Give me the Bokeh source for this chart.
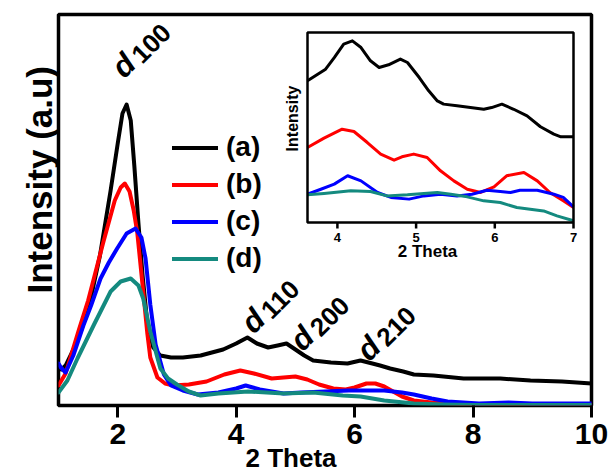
from bokeh.plotting import figure
from bokeh.models import Range1d, Legend, LegendItem, Label, FixedTicker, Title
from bokeh.core.properties import value
from bokeh.embed import file_html
from bokeh.resources import INLINE

# ---------------- data (main panel) ----------------
x_ticks = [2, 4, 6, 8, 10]

a_x = [1.0, 1.05, 1.12, 1.3, 1.5, 1.7, 1.88, 2.0, 2.08, 2.15, 2.22, 2.28, 2.35, 2.42, 2.5, 2.6, 2.72, 2.9,
       3.1, 3.4, 3.78, 4.0, 4.19, 4.35, 4.54, 4.7, 4.85, 5.0, 5.15, 5.3, 5.6, 5.88, 6.1, 6.3, 6.43, 6.6,
       6.82, 7.0, 7.33, 7.84, 8.46, 8.97, 9.5, 10.0]
a_y = [38, 36, 40, 62, 95, 150, 215, 262, 292, 301, 285, 240, 182, 130, 82, 58, 50, 48,
       48, 50, 56, 62, 68, 62, 58, 60, 62, 56, 50, 45, 43, 42, 45, 42, 40, 37,
       34, 31, 30, 27, 27, 25, 24, 22]

b_x = [1.0, 1.05, 1.12, 1.34, 1.5, 1.76, 1.95, 2.05, 2.12, 2.2, 2.27, 2.33, 2.42, 2.5, 2.55, 2.67, 2.8,
       2.94, 3.2, 3.5, 3.8, 4.07, 4.3, 4.6, 4.8, 5.0, 5.2, 5.4, 5.64, 5.85, 6.0, 6.2, 6.35, 6.5, 6.65,
       6.8, 7.0, 7.3, 7.6, 8.0, 9.0, 10.0]
b_y = [20, 25, 32, 75, 105, 164, 205, 218, 222, 214, 195, 173, 120, 72, 48, 28, 22,
       20, 21, 24, 31, 35, 32, 27, 28, 29, 26, 21, 17, 16, 18, 22, 22, 19, 14,
       9, 5, 3, 2, 1, 1, 1]

c_x = [1.0, 1.04, 1.12, 1.25, 1.42, 1.55, 1.71, 1.85, 1.99, 2.15, 2.3, 2.4, 2.47, 2.55, 2.64, 2.78,
       2.9, 3.1, 3.35, 3.7, 4.0, 4.16, 4.4, 4.8, 5.1, 5.5, 5.9, 6.2, 6.5, 6.8, 7.0, 7.3, 7.57, 8.1,
       8.6, 9.0, 9.5, 10.0]
c_y = [42, 38, 33, 50, 80, 100, 127, 143, 157, 172, 177, 168, 147, 101, 61, 31,
       20, 15, 11, 13, 17, 20, 16, 12, 13, 14, 15, 15, 15, 13, 11, 7, 4, 2,
       3, 2, 2, 2]

d_x = [1.0, 1.15, 1.32, 1.6, 1.88, 2.05, 2.22, 2.35, 2.43, 2.55, 2.72, 2.85, 3.0, 3.2, 3.4, 3.7,
       4.2, 4.8, 5.3, 5.8, 6.1, 6.5, 7.0, 7.5, 8.0, 10.0]
d_y = [13, 25, 47, 81, 114, 124, 127, 120, 107, 74, 37, 27, 21, 14, 10, 12,
       14, 12, 13, 10, 9, 5, 2, 1, 0.5, 0.5]

series_labels = ["(a)", "(b)", "(c)", "(d)"]
peak_labels = ["100", "110", "200", "210"]

# ---------------- data (inset) ----------------
inset_ticks = [4, 5, 6, 7]
inset_tick_labels = ["4", "5", "6", "7"]

ia_x = [3.62, 3.85, 3.96, 4.08, 4.19, 4.30, 4.42, 4.53, 4.65, 4.80, 4.89, 5.04, 5.16, 5.27, 5.35,
        5.52, 5.69, 5.86, 5.96, 6.09, 6.24, 6.41, 6.58, 6.75, 6.84, 7.0]
ia_y = [74.6, 80.7, 86.8, 93.9, 95.6, 92.1, 85.1, 81.6, 83.0, 86.0, 84.2, 76.3, 69.3, 64.0, 62.3,
        61.4, 60.5, 59.6, 60.5, 62.3, 59.6, 56.1, 50.4, 46.5, 45.1, 45.1]

ib_x = [3.62, 3.83, 4.06, 4.21, 4.38, 4.55, 4.72, 4.82, 4.97, 5.14, 5.31, 5.48, 5.65, 5.82, 5.99,
        6.15, 6.37, 6.54, 6.70, 6.87, 7.0]
ib_y = [39.5, 44.4, 49.1, 47.9, 42.1, 36.0, 32.8, 34.6, 36.0, 34.2, 27.2, 21.9, 17.5, 15.8, 18.8,
        24.6, 26.3, 21.9, 15.8, 11.4, 7.9]

ic_x = [3.62, 3.79, 3.96, 4.13, 4.30, 4.51, 4.68, 4.91, 5.10, 5.31, 5.52, 5.71, 5.90, 6.07, 6.20,
        6.32, 6.54, 6.75, 6.87, 7.0]
ic_y = [14.9, 17.5, 20.2, 24.6, 21.9, 15.8, 13.2, 12.3, 14.0, 14.9, 14.0, 14.9, 17.0, 16.3, 15.8,
        17.0, 17.0, 14.9, 13.2, 8.2]

id_x = [3.62, 3.83, 4.17, 4.42, 4.63, 4.89, 5.10, 5.27, 5.44, 5.65, 5.86, 6.07, 6.28, 6.45, 6.62,
        6.79, 7.0]
id_y = [14.6, 15.3, 16.7, 16.3, 14.0, 14.6, 15.3, 15.8, 14.9, 13.5, 11.4, 10.5, 7.9, 7.0, 6.1,
        3.5, 0.9]

# ---------------- layout / style ----------------
FONT = "Liberation Sans"
COLORS = ["#000000", "#ff0000", "#0000ff", "#148a7f"]

W, H = 610, 473
FL, FR, FT, FB = 58, 591, 14, 405          # main frame edges (px)
X0, X1 = 1, 10
Y0, Y1 = 0, FB - FT

IL, IR, IT, IB = 307, 573, 32, 222          # inset frame edges (px)
IX0, IX1 = 3.62, 7.0
IY0, IY1 = 0, 100


def mx(px):
    return X0 + (px - FL) * (X1 - X0) / (FR - FL)


def my(py):
    return Y0 + (FB - py) * (Y1 - Y0) / (FB - FT)


kx = (IR - IL) / (IX1 - IX0)
ky = (IB - IT) / (IY1 - IY0)


def ix(px):
    return IX0 + (px - IL) / kx


def iy(py):
    return IY0 + (IB - py) / ky


p = figure(width=W, height=H, output_backend="svg", toolbar_location=None,
           x_range=Range1d(X0, X1), y_range=Range1d(Y0, Y1),
           min_border_left=FL, min_border_right=W - FR,
           min_border_top=FT, min_border_bottom=H - FB)
p.extra_x_ranges = {"ix": Range1d(IX0 - (IL - FL) / kx, IX1 + (FR - IR) / kx)}
p.extra_y_ranges = {"iy": Range1d(IY0 - (FB - IB) / ky, IY1 + (IT - FT) / ky)}

p.grid.visible = False
p.outline_line_color = "black"
p.outline_line_width = 3.5
p.background_fill_color = "white"
p.border_fill_color = "white"

# y axis: no ticks / labels, only used as a spacer next to the frame
p.yaxis.ticker = FixedTicker(ticks=[])
p.yaxis.axis_line_color = None
p.yaxis.major_tick_line_color = None
p.yaxis.minor_tick_line_color = None
p.yaxis.major_tick_out = 16
p.yaxis.major_tick_in = 0
p.yaxis.minor_tick_out = 0
p.yaxis.minor_tick_in = 0
p.yaxis.major_label_standoff = 0

p.xaxis.ticker = FixedTicker(ticks=x_ticks)
p.xaxis.axis_line_color = None
p.xaxis.major_tick_line_width = 3
p.xaxis.major_tick_line_color = "black"
p.xaxis.major_tick_out = 12
p.xaxis.major_tick_in = 0
p.xaxis.minor_tick_line_color = None
p.xaxis.major_label_standoff = 6
p.xaxis.major_label_text_font = FONT
p.xaxis.major_label_text_font_style = "bold"
p.xaxis.major_label_text_font_size = "30px"
p.xaxis.major_label_text_color = "black"

# axis titles
p.add_layout(Title(text="2 Theta", align="left", offset=187, vertical_align="top", standoff=-8,
                   text_font=FONT, text_font_style="bold", text_font_size="26px",
                   text_color="black"), "below")
p.add_layout(Title(text="Intensity (a.u)", align="left", offset=112, vertical_align="bottom",
                   standoff=0, text_font=FONT, text_font_style="bold", text_font_size="35px",
                   text_color="black"), "left")

# main curves
renderers = []
for xs, ys, col in [(a_x, a_y, COLORS[0]), (b_x, b_y, COLORS[1]), (c_x, c_y, COLORS[2]), (d_x, d_y, COLORS[3])]:
    r = p.line(xs, ys, line_color=col, line_width=4, line_join="round", line_cap="round")
    renderers.append(r)

legend = Legend(items=[LegendItem(label=l, renderers=[r]) for l, r in zip(series_labels, renderers)],
                location=(172 - FL, FB - 276.5),
                glyph_width=46, glyph_height=37, label_height=37, label_standoff=8,
                spacing=0, padding=0, margin=0,
                border_line_color=None, background_fill_alpha=0,
                label_text_font=FONT, label_text_font_style="bold",
                label_text_font_size="28px", label_text_color="black")
p.add_layout(legend)

# peak annotations (d + index), rotated
d_anchor_px = [(116.3, 71.7), (245.8, 327.2), (294.8, 344.7), (361.3, 354.7)]
for (px, py), lab in zip(d_anchor_px, peak_labels):
    p.add_layout(Label(x=mx(px), y=my(py), text="d", angle=45, angle_units="deg",
                       text_align="left", text_baseline="alphabetic", text_font=FONT,
                       text_font_style="bold italic", text_font_size="31px", text_color="black"))
    p.add_layout(Label(x=mx(px + 19), y=my(py - 13.5), text=lab, angle=45, angle_units="deg",
                       text_align="left", text_baseline="alphabetic", text_font=FONT,
                       text_font_style="bold", text_font_size="26px", text_color="black"))

# ---------------- inset ----------------
p.quad(left=[IX0], right=[IX1], bottom=[IY0], top=[IY1], x_range_name="ix", y_range_name="iy",
       fill_color="white", line_color=None)
for xs, ys, col in [(ia_x, ia_y, COLORS[0]), (ib_x, ib_y, COLORS[1]), (ic_x, ic_y, COLORS[2]), (id_x, id_y, COLORS[3])]:
    p.line(xs, ys, line_color=col, line_width=3, line_join="round",
           x_range_name="ix", y_range_name="iy")
p.quad(left=[IX0], right=[IX1], bottom=[IY0], top=[IY1], x_range_name="ix", y_range_name="iy",
       fill_color=None, line_color="black", line_width=2.5)
p.segment(x0=inset_ticks, y0=[IY0] * len(inset_ticks), x1=inset_ticks,
          y1=[IY0 - 6 / ky] * len(inset_ticks), line_color="black", line_width=2.5,
          x_range_name="ix", y_range_name="iy")
p.text(x=inset_ticks, y=[iy(237)] * len(inset_ticks), text=inset_tick_labels,
       x_range_name="ix", y_range_name="iy", text_align="center", text_baseline="middle",
       text_font=value(FONT), text_font_style=value("bold"), text_font_size=value("13px"),
       text_color="black")
p.text(x=[ix(427)], y=[iy(251)], text=["2 Theta"], x_range_name="ix", y_range_name="iy",
       text_align="center", text_baseline="middle", text_font=value(FONT),
       text_font_style=value("bold"), text_font_size=value("17px"), text_color="black")
p.text(x=[ix(292)], y=[iy(118)], text=["Intensity"], angle=90, angle_units="deg",
       x_range_name="ix", y_range_name="iy", text_align="center", text_baseline="middle",
       text_font=value(FONT), text_font_style=value("bold"), text_font_size=value("16px"),
       text_color="black")

open("out.html", "w").write(file_html(p, INLINE))
